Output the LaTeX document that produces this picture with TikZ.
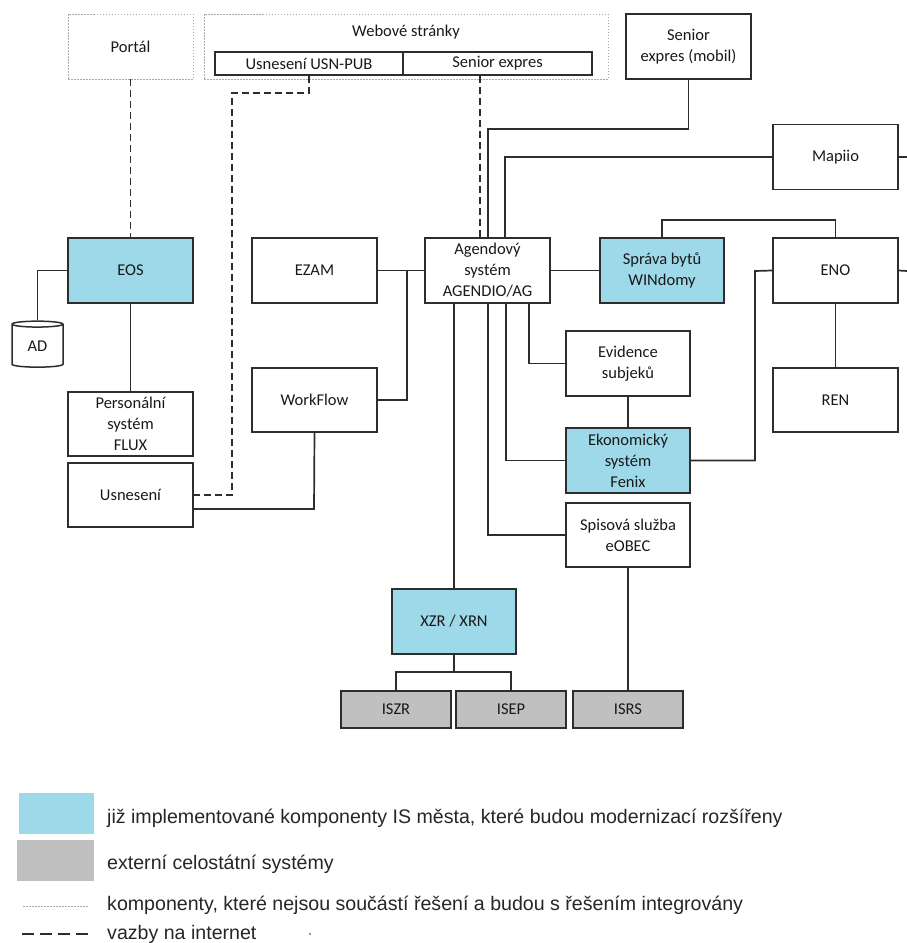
\documentclass[tikz,border=0pt]{standalone}
\usepackage{fontspec}
\setmainfont{Carlito}
\newfontfamily\legfont{Liberation Sans}
\usetikzlibrary{shapes.geometric}
\definecolor{ibluefill}{RGB}{158,217,233}
\definecolor{igreyfill}{RGB}{192,192,192}
\definecolor{iline}{RGB}{45,45,45}
\definecolor{idot}{RGB}{170,170,170}
\tikzset{
  txt/.style={font={\fontsize{16.5}{21}\selectfont}, align=center, inner sep=0pt, text=black!90},
  sysbox/.style={txt, draw=iline, line width=1.8pt, minimum width=125pt, minimum height=65pt},
  bluebox/.style={sysbox, fill=ibluefill},
  greybox/.style={sysbox, fill=igreyfill, minimum width=110pt, minimum height=37pt},
  smallbox/.style={sysbox, minimum height=23pt},
  dotbox/.style={txt, draw=idot, line width=0.9pt, dash pattern=on 1.5pt off 1.5pt, minimum width=125pt, minimum height=65pt},
  conn/.style={draw=iline, line width=1.7pt},
  netlink/.style={draw=iline, line width=1.7pt, dash pattern=on 7pt off 4pt},
  legtxt/.style={font={\legfont\fontsize{19.6}{22}\selectfont}, anchor=base west, inner sep=0pt, text=black!85},
}
\begin{document}
\begin{tikzpicture}[x=1pt,y=-1pt]
\useasboundingbox (0,0) rectangle (907,943);
% top
\node[dotbox] (portal) at (130.5,46.5) {Portál};
\node[dotbox, minimum width=404pt] (web) at (406,46.5) {};
\node[txt] (webt) at (406,32) {Webové stránky};
\node[smallbox, minimum width=188pt] (usn) at (309,63.5) {Usnesení USN-PUB};
\node[smallbox, minimum width=189pt] (sen) at (497.5,63.5) {Senior expres};
\node[sysbox] (senm) at (688.5,46.5) {Senior\\expres (mobil)};
\node[sysbox] (mapiio) at (835.5,157) {Mapiio};
% middle
\node[bluebox] (eos) at (130.5,270.5) {EOS};
\node[cylinder, shape border rotate=90, draw=iline, line width=1.5pt, aspect=0.3,
      minimum width=51pt, minimum height=46pt, txt, fill=white] (ad) at (37.5,346) {AD};
\node[sysbox, minimum height=64pt] (pers) at (130.5,424) {Personální\\systém\\FLUX};
\node[sysbox, minimum height=64pt] (usnes) at (130.5,495) {Usnesení};
\node[sysbox] (ezam) at (314.5,270.5) {EZAM};
\node[sysbox, minimum height=64pt] (wf) at (314.5,400) {WorkFlow};
\node[sysbox] (ag) at (487.5,270.5) {Agendový\\systém\\AGENDIO/AG};
\node[bluebox, minimum width=124pt] (sprava) at (662,270.5) {Správa bytů\\WINdomy};
\node[sysbox] (eno) at (835.5,270.5) {ENO};
\node[sysbox, minimum height=64pt] (ren) at (835.5,400) {REN};
\node[sysbox, minimum width=124pt] (evid) at (628,363.5) {Evidence\\subjeků};
\node[bluebox, minimum width=124pt] (fenix) at (628,460.5) {Ekonomický\\systém\\Fenix};
\node[sysbox, minimum width=124pt, minimum height=64pt] (spis) at (628,535) {Spisová služba\\eOBEC};
\node[bluebox, minimum width=124pt] (xzr) at (454,621.5) {XZR / XRN};
\node[greybox] (iszr) at (396,709.5) {ISZR};
\node[greybox] (isep) at (511,709.5) {ISEP};
\node[greybox] (isrs) at (628,709.5) {ISRS};
% helper coordinates
\coordinate (d1) at (232,93);
\coordinate (x480) at (480,0);
\coordinate (j1) at (488,129);
\coordinate (j2) at (505,157);
\coordinate (mr) at (907,157);
\coordinate (j3) at (314,509);
\coordinate (j4) at (407,271);
\coordinate (j5) at (662,220);
\coordinate (er) at (907,271);
\coordinate (x529) at (529,0);
\coordinate (x506) at (506,0);
\coordinate (x488) at (488,0);
\coordinate (j6) at (755,271);
\coordinate (j7) at (454,672);
% dashed internet links
\draw[netlink] (portal.south) -- (eos.north);
\draw[netlink] (usn.south) -- (usn.south |- d1) -- (d1) -- (d1 |- usnes.east) -- (usnes.east);
\draw[netlink] (x480 |- sen.south) -- (x480 |- ag.north);
% solid links
\draw[conn] (senm.south) |- (j1) -- (j1 |- ag.north);
\draw[conn] (mapiio.west) -- (j2) -- (j2 |- ag.north);
\draw[conn] (mapiio.east) -- (mr);
\draw[conn] (eos.west) -| (ad.north);
\draw[conn] (eos.south) -- (pers.north);
\draw[conn] (j3 -| usnes.east) -- (j3) -- (wf.south);
\draw[conn] (ezam.east) -- (ag.west);
\draw[conn] (wf.east) -| (j4);
\draw[conn] (ag.east) -- (sprava.west);
\draw[conn] (sprava.north) -- (j5) -| (eno.north);
\draw[conn] (eno.east) -- (er);
\draw[conn] (eno.south) -- (ren.north);
\draw[conn] (x529 |- ag.south) |- (evid.west);
\draw[conn] (evid.south) -- (fenix.north);
\draw[conn] (x506 |- ag.south) |- (fenix.west);
\draw[conn] (fenix.east) -| (j6) -- (eno.west);
\draw[conn] (x488 |- ag.south) |- (spis.west);
\draw[conn] (ag.south -| xzr.north) -- (xzr.north);
\draw[conn] (spis.south) -- (isrs.north);
\draw[conn] (xzr.south) -- (j7);
\draw[conn] (iszr.north) |- (j7) -| (isep.north);
% legend
\node[fill=ibluefill, minimum width=75pt, minimum height=41pt, inner sep=0pt] (legb) at (56.5,813.5) {};
\node[fill=igreyfill, minimum width=77pt, minimum height=41pt, inner sep=0pt] (legg) at (55.5,860.5) {};
\node[legtxt] (legbt) at (107,823) {již implementované komponenty IS města, které budou modernizací rozšířeny};
\node[legtxt] (leggt) at (107,869) {externí celostátní systémy};
\coordinate (ld1) at (23,906);
\coordinate (ld2) at (89,906);
\draw[draw=idot, line width=0.8pt, dash pattern=on 1.5pt off 1.5pt] (ld1) -- (ld2);
\node[legtxt] (legdt) at (107,910) {komponenty, které nejsou součástí řešení a budou s řešením integrovány};
\coordinate (ln1) at (22,934);
\coordinate (ln2) at (91,934);
\draw[draw=iline, line width=1.6pt, dash pattern=on 12pt off 6pt] (ln1) -- (ln2);
\node[legtxt] (legnt) at (107,939) {vazby na internet};
\fill[iline] (310,934) circle (0.9pt);
\end{tikzpicture}
\end{document}
